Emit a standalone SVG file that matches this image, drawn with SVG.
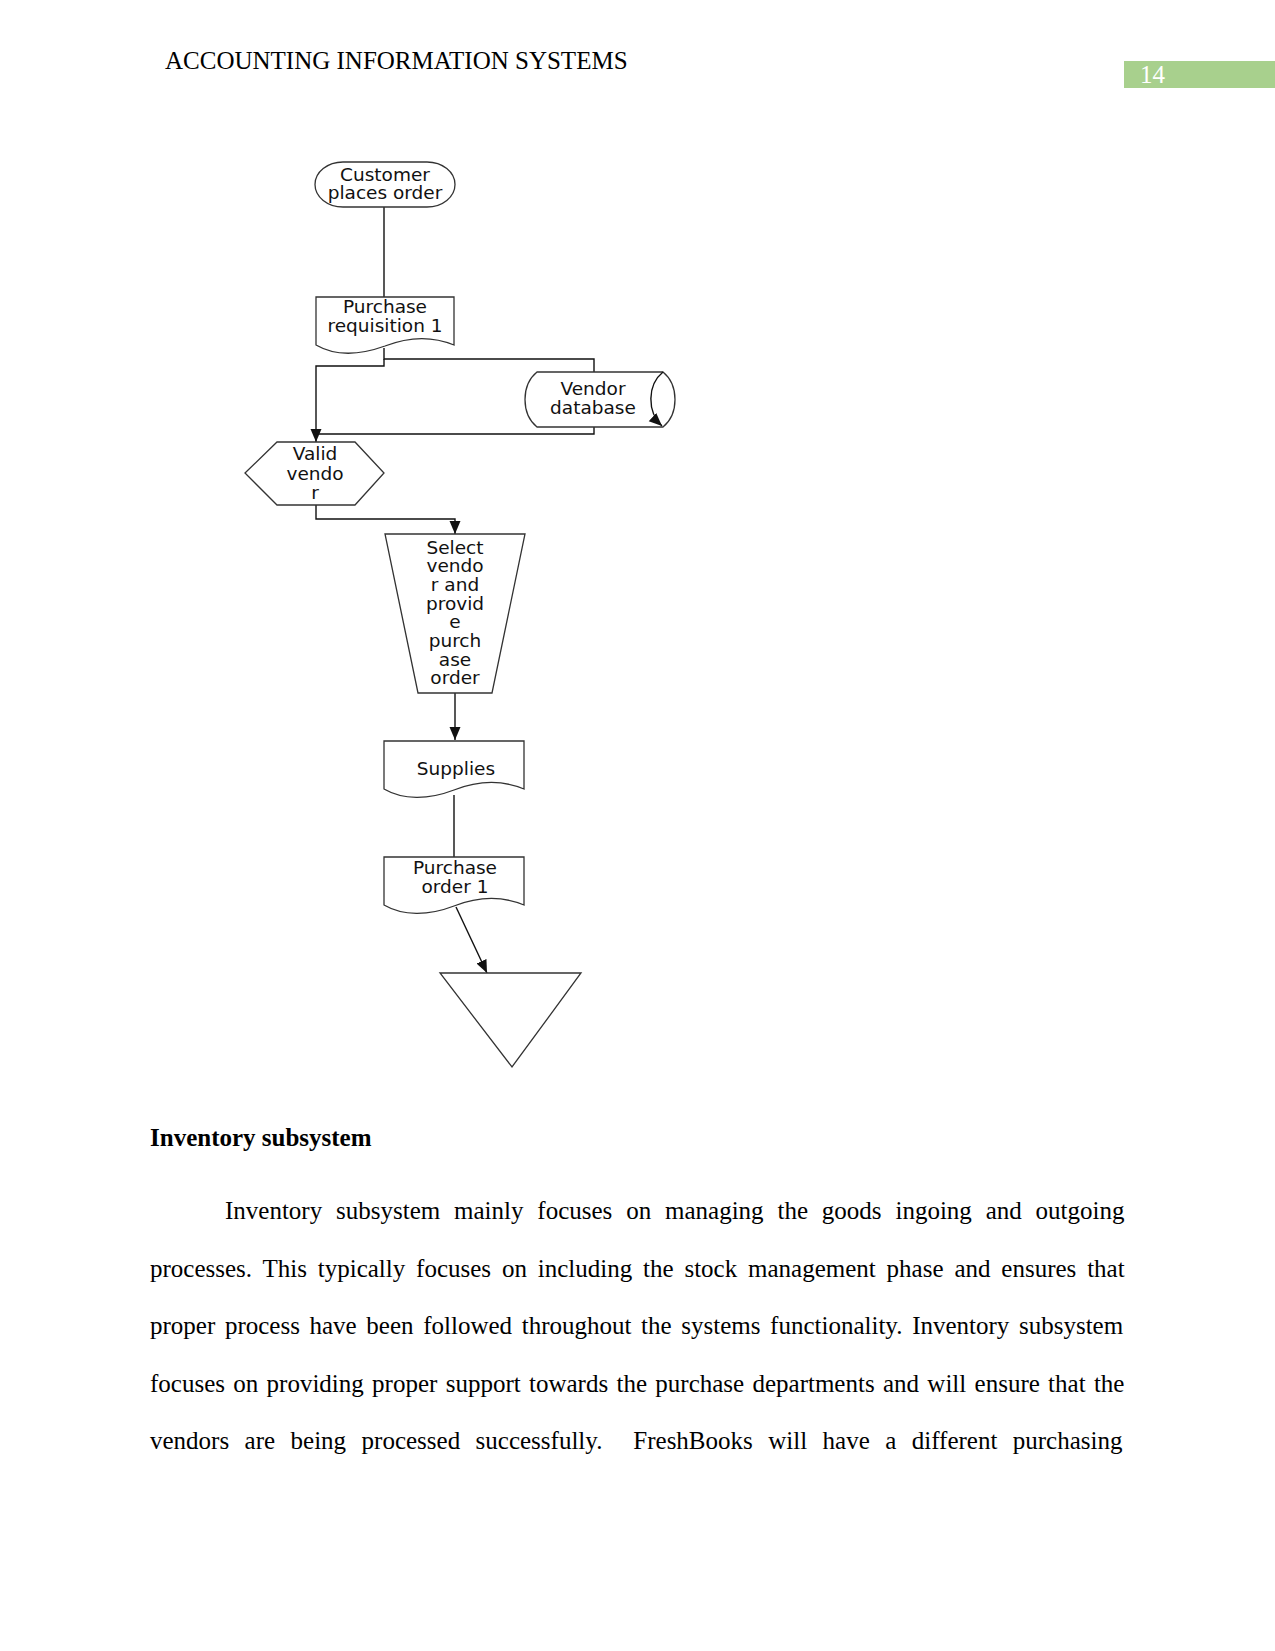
<svg xmlns="http://www.w3.org/2000/svg" width="1275" height="1651" viewBox="0 0 1275 1651">
<defs>
<style>
.shape{fill:#fff;stroke:#333;stroke-width:1.3}
.conn{fill:none;stroke:#111;stroke-width:1.4}
.lbl{font-family:"DejaVu Sans",sans-serif;font-size:18.5px;fill:#111;text-anchor:middle}
.body{font-family:"Liberation Serif","Times New Roman",serif;font-size:25px;fill:#000}
</style>
<marker id="arr" markerUnits="userSpaceOnUse" markerWidth="14" markerHeight="14" viewBox="0 0 14 14" refX="13" refY="7" orient="auto">
<path d="M0,1.5 L13,7 L0,12.5 Z" fill="#111"/>
</marker>
</defs>
<rect width="1275" height="1651" fill="#fff"/>

<text class="body" x="165" y="69">ACCOUNTING INFORMATION SYSTEMS</text>
<rect x="1124" y="61" width="151" height="27" fill="#a8d08d"/>
<text class="body" x="1140" y="83" style="fill:#fff">14</text>

<g id="connectors">
<path class="conn" d="M384,207 V297"/>
<path class="conn" d="M384,348 V359 H594 V372"/>
<path class="conn" d="M384,359 V366 H316 V442" marker-end="url(#arr)"/>
<path class="conn" d="M594,427 V434 H316"/>
<path class="conn" d="M316,505 V519 H455 V534" marker-end="url(#arr)"/>
<path class="conn" d="M455,693 V740" marker-end="url(#arr)"/>
<path class="conn" d="M454,795 V857"/>
<path class="conn" d="M456,907 L487,973" marker-end="url(#arr)"/>
</g>

<g id="customer">
<rect class="shape" x="315" y="162" width="140" height="45" rx="28" ry="22.5"/>
<text class="lbl" x="385" y="180.5">Customer</text>
<text class="lbl" x="385" y="199">places order</text>
</g>

<g id="requisition">
<path class="shape" d="M316,297 H454 V345 C430,335 408,337 385,346 C360,355 335,356 316,345 Z"/>
<text class="lbl" x="385" y="312.5">Purchase</text>
<text class="lbl" x="385" y="331.5">requisition 1</text>
</g>

<g id="vendor-db">
<path class="shape" d="M537,372 H663 C679,385 679,414 663,427 H537 C521,414 521,385 537,372 Z"/>
<path class="conn" d="M663,372 C647,385 647,412 662,426" stroke="#333" marker-end="url(#arr)"/>
<text class="lbl" x="593" y="394.5">Vendor</text>
<text class="lbl" x="593" y="413.5">database</text>
</g>

<g id="valid-vendor">
<polygon class="shape" points="245,473 277,442 355,442 384,473 355,505 277,505"/>
<text class="lbl" x="315" y="459.5">Valid</text>
<text class="lbl" x="315" y="479.5">vendo</text>
<text class="lbl" x="315" y="498.5">r</text>
</g>

<g id="select-vendor">
<polygon class="shape" points="385,534 525,534 492,693 418,693"/>
<text class="lbl" x="455" y="553.5">Select</text>
<text class="lbl" x="455" y="572.2">vendo</text>
<text class="lbl" x="455" y="590.9">r and</text>
<text class="lbl" x="455" y="609.6">provid</text>
<text class="lbl" x="455" y="628.3">e</text>
<text class="lbl" x="455" y="647">purch</text>
<text class="lbl" x="455" y="665.7">ase</text>
<text class="lbl" x="455" y="684.4">order</text>
</g>

<g id="supplies">
<path class="shape" d="M384,741 H524 V789 C500,779 477,781 454,790 C428,800 403,800 384,789 Z"/>
<text class="lbl" x="456" y="774.5">Supplies</text>
</g>

<g id="purchase-order">
<path class="shape" d="M384,857 H524 V905 C500,895 477,897 454,906 C428,916 403,916 384,905 Z"/>
<text class="lbl" x="455" y="873.5">Purchase</text>
<text class="lbl" x="455" y="892.5">order 1</text>
</g>

<g id="storage">
<polygon class="shape" points="440,973 581,973 512,1067"/>
</g>

<text class="body" x="150" y="1146" font-weight="bold">Inventory subsystem</text>
<text class="body" x="225" y="1219" style="word-spacing:7.6px">Inventory subsystem mainly focuses on managing the goods ingoing and outgoing</text>
<text class="body" x="150" y="1277" style="word-spacing:4.6px">processes. This typically focuses on including the stock management phase and ensures that</text>
<text class="body" x="150" y="1334" style="word-spacing:3.4px">proper process have been followed throughout the systems functionality. Inventory subsystem</text>
<text class="body" x="150" y="1392" style="word-spacing:2.06px">focuses on providing proper support towards the purchase departments and will ensure that the</text>
<text class="body" x="150" y="1449" style="word-spacing:9.2px">vendors are being processed successfully. &#160;FreshBooks will have a different purchasing</text>
</svg>
